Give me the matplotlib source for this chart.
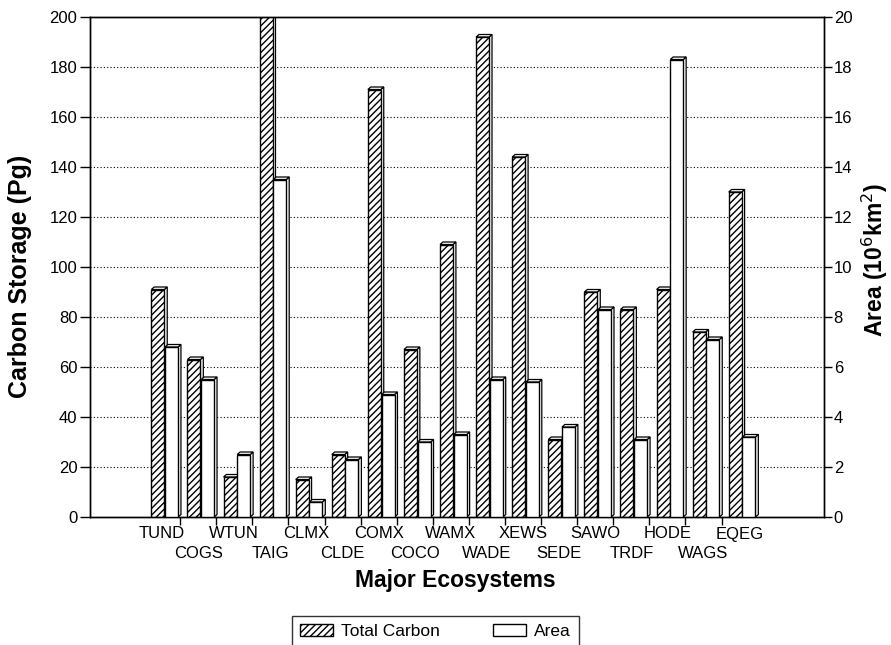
import numpy as np
import matplotlib.pyplot as plt
from matplotlib.patches import Patch, Polygon

plt.rcParams['font.family'] = ['Liberation Sans', 'DejaVu Sans']
plt.rcParams['hatch.linewidth'] = 1.0

# carbon storage (Pg) and area (10^6 km^2) per ecosystem
ecosystems = ['TUND', 'COGS', 'WTUN', 'TAIG', 'CLMX', 'CLDE', 'COMX', 'COCO', 'WAMX',
              'WADE', 'XEWS', 'SEDE', 'SAWO', 'TRDF', 'HODE', 'WAGS', 'EQEG']
total_carbon = [91, 63, 16, 200, 15, 25, 171, 67, 109, 192, 144, 31, 90, 83, 91, 74, 130]
area = [6.8, 5.5, 2.5, 13.5, 0.6, 2.3, 4.9, 3.0, 3.3, 5.5, 5.4, 3.6, 8.3, 3.1, 18.3, 7.1, 3.2]

fig = plt.figure(figsize=(8.91, 6.45), dpi=100)
ax = fig.add_axes([90/891, 1 - 517/645, (824 - 90)/891, (517 - 17)/645])
ax2 = ax.twinx()

x = np.arange(len(ecosystems))
w = 0.36
dx = 0.08


def bar3d(axis, left, height, depth, hatch):
    axis.bar(left, height, width=w, align='edge', facecolor='white',
             edgecolor='black', linewidth=1.0, hatch=hatch, zorder=3)
    # thin side and top faces for the box look
    for l, h in zip(left, height):
        r = l + w
        side = Polygon([(r, 0), (r + dx, depth), (r + dx, h + depth), (r, h)],
                       closed=True, facecolor='white', edgecolor='black',
                       linewidth=0.9, zorder=2.5)
        top = Polygon([(l, h), (l + dx, h + depth), (r + dx, h + depth), (r, h)],
                      closed=True, facecolor='white', edgecolor='black',
                      linewidth=0.9, zorder=2.5)
        axis.add_patch(side)
        axis.add_patch(top)


bar3d(ax, x + 0.2, total_carbon, 1.0, '/////')
bar3d(ax2, x + 0.58, area, 0.1, None)

ax.set_xlim(-1.5, 18.84)
ax.set_ylim(0, 200)
ax2.set_ylim(0, 20)

ax.set_yticks(np.arange(0, 201, 20))
ax2.set_yticks(np.arange(0, 21, 2))
ax.tick_params(axis='y', direction='out', length=7, width=1, labelsize=12, pad=2)
ax2.tick_params(axis='y', direction='out', length=6, width=1, labelsize=12, pad=1)

# dotted grid lines
for v in range(20, 200, 20):
    ax.axhline(v, color='black', linestyle=(0, (1, 2)), linewidth=0.8, zorder=1)

# category ticks at slot borders, names in two staggered rows
ax.set_xticks(np.arange(1, len(ecosystems)))
ax.set_xticklabels([])
ax.tick_params(axis='x', direction='out', length=6, width=1)
for i, name in enumerate(ecosystems):
    ypos = -0.034 if i % 2 == 0 else -0.074
    ax.text(i + 0.5, ypos, name, transform=ax.get_xaxis_transform(),
            ha='center', va='center', fontsize=12)

for a in (ax, ax2):
    for s in a.spines.values():
        s.set_linewidth(1.0)

fig.text(20/891, 1 - 276/645, 'Carbon Storage (Pg)', rotation=90, fontsize=18,
         fontweight='bold', ha='center', va='center')
fig.text(875/891, 1 - 260/645, 'Area (10$^6$km$^2$)', rotation=90, fontsize=16.5,
         fontweight='bold', ha='center', va='center')
fig.text(455/891, 1 - 580/645, 'Major Ecosystems', fontsize=16.5, fontweight='bold',
         ha='center', va='center')

handles = [Patch(facecolor='white', edgecolor='black', hatch='/////', label='Total Carbon'),
           Patch(facecolor='white', edgecolor='black', label='Area')]
leg = fig.legend(handles=handles, loc='upper left', bbox_to_anchor=(292/891, 1 - 616/645),
                 ncol=2, fontsize=12.5, frameon=True, fancybox=False, edgecolor='black',
                 handlelength=1.9, handleheight=0.7, handletextpad=0.45,
                 columnspacing=3.1, borderpad=0.45, borderaxespad=0)
leg.get_frame().set_linewidth(1.0)

fig.savefig('out.png', dpi=100)
